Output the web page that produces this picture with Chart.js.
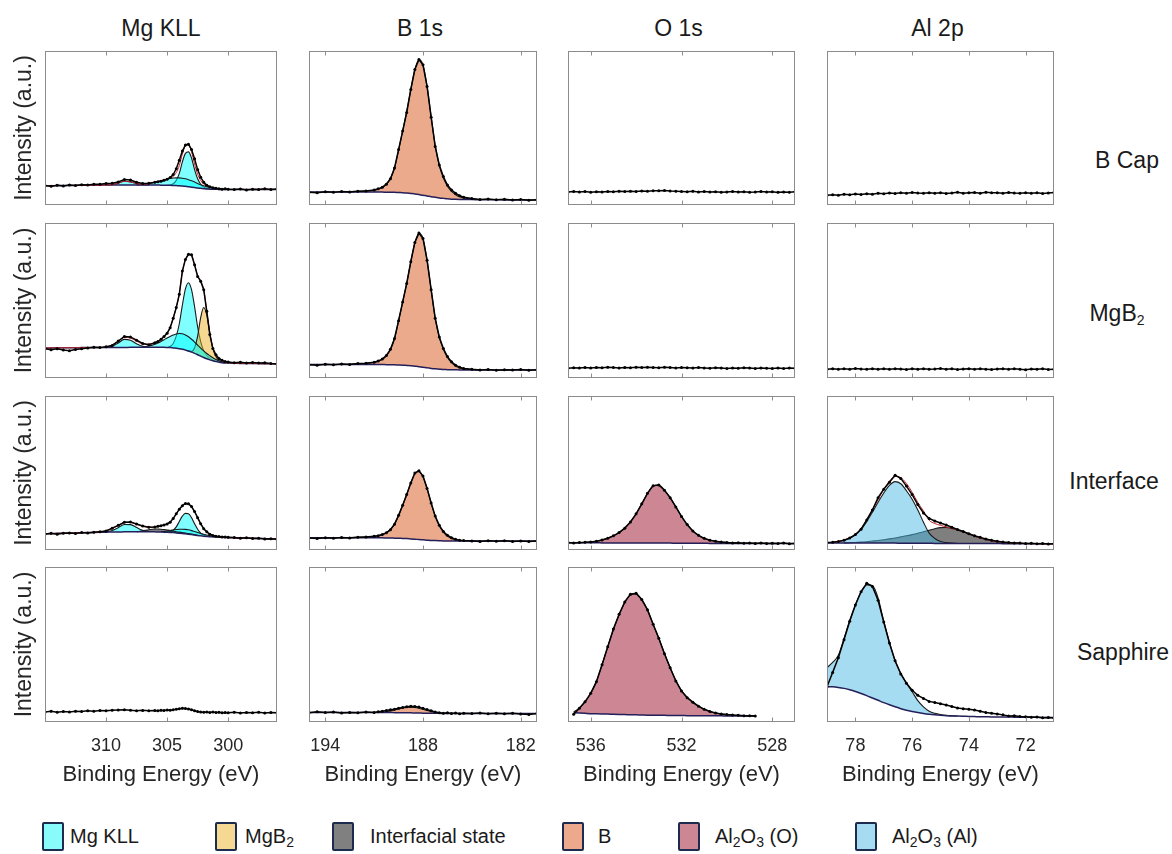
<!DOCTYPE html>
<html><head><meta charset="utf-8">
<script src="https://cdn.jsdelivr.net/npm/chart.js@4.4.1/dist/chart.umd.min.js"></script>
<style>
body{margin:0;background:#fff;width:1172px;height:854px;position:relative;overflow:hidden;font-family:"Liberation Sans",Arial,Helvetica,sans-serif;color:#1a1a1a}
canvas{position:absolute}
.lbl{position:absolute;white-space:nowrap;transform:translate(-50%,-50%);font-size:23px}
.leg{position:absolute;top:836px;transform:translateY(-50%);font-size:20px;white-space:nowrap}
.sw{position:absolute;top:822px;width:18px;height:25px;border:2px solid #1d2b4f;border-radius:2px}
sub{font-size:14px;vertical-align:-4px;line-height:0}
</style></head><body>
<div id="root"></div>
<script>
// ---------------- DATA ----------------
const COLUMN_TITLES = ['Mg KLL', 'B 1s', 'O 1s', 'Al 2p'];
const ROW_LABELS = ['B Cap', 'MgB<sub>2</sub>', 'Interface', 'Sapphire'];
const X_LIMITS = [[315, 296], [195, 181], [537, 527], [79, 71]];
const X_TICKS = [[310, 305, 300], [194, 188, 182], [536, 532, 528], [78, 76, 74, 72]];
const LEGEND_LABELS = ['Mg KLL', 'MgB<sub>2</sub>', 'Interfacial state', 'B', 'Al<sub>2</sub>O<sub>3</sub> (O)', 'Al<sub>2</sub>O<sub>3</sub> (Al)'];

// binding energy grids (eV)
const E_MG = [315,314.5,314,313.5,313,312.5,312,311.5,311,310.5,310,309.5,309,308.5,308,307.5,307,306.5,306,
  305.75,305.5,305.25,305,304.75,304.5,304.25,304,303.75,303.5,303.25,303,302.75,302.5,302.25,302,301.75,301.5,301.25,301,300.75,300.5,300.25,300,
  299.5,299,298.5,298,297.5,297,296.5,296];
const E_B = [195,194.5,194,193.5,193,192.5,192,191.5,191,
  190.75,190.5,190.25,190,189.75,189.5,189.25,189,188.75,188.5,188.25,188,187.75,187.5,187.25,187,186.75,186.5,186.25,186,185.75,185.5,
  185,184.5,184,183.5,183,182.5,182,181.5,181];
const E_O = [537,536.75,536.5,536.25,536,535.75,535.5,535.25,535,534.75,534.5,534.25,534,533.75,533.5,533.25,533,532.75,532.5,532.25,
  532,531.75,531.5,531.25,531,530.75,530.5,530.25,530,529.75,529.5,529.25,529,528.75,528.5,528.25,528,527.75,527.5,527.25,527];
const E_A = [79,78.8,78.6,78.4,78.2,78,77.8,77.6,77.4,77.2,77,76.8,76.6,76.4,76.2,76,75.8,75.6,75.4,75.2,
  75,74.8,74.6,74.4,74.2,74,73.8,73.6,73.4,73.2,73,72.8,72.6,72.4,72.2,72,71.8,71.6,71.4,71.2,71];

// ---- Mg KLL ----
const MG_BCAP = [12.6,12.2,12.8,12.4,13.0,12.7,13.2,13.0,13.5,13.4,13.9,14.1,15.0,16.6,16.2,14.8,14.0,14.2,14.8,
  15.1,15.4,16.0,16.8,17.8,19.8,23.5,29,35,39,39.5,36,30,23,18,14.8,12.8,11.8,11.2,10.8,10.6,10.3,10.5,10.2,
  10.0,10.4,9.8,10.2,10.0,10.5,10.1,10.4];
const MG_BCAP_BG = [12.5,12.5,12.6,12.6,12.7,12.7,12.8,12.8,12.9,12.9,13.0,13.0,13.0,13.0,13.0,13.0,13.0,13.0,13.0,
  13.0,12.9,12.9,12.8,12.8,12.7,12.6,12.5,12.3,12.1,11.9,11.6,11.3,11.0,10.8,10.6,10.4,10.3,10.2,10.2,10.1,10.1,10.1,10.1,
  10.1,10.1,10.1,10.1,10.1,10.1,10.1,10.1];
const MG_BCAP_FIT = [12.5,12.5,12.6,12.6,12.7,12.7,12.8,12.8,12.9,12.9,13.0,13.3,14.2,15.4,15.0,13.9,13.5,13.9,14.8,
  15.3,15.8,16.3,16.8,17.4,18.6,21.0,25.6,33.1,38.4,39.0,34.6,26.6,20.0,15.9,13.5,12.3,11.5,11.0,10.7,10.4,10.2,10.1,10.1,
  10.1,10.1,10.1,10.1,10.1,10.1,10.1,10.1];
const MG_BCAP_C1 = [13.0,13.3,14.2,15.4,15.0,13.9,13.2,13.0];
const MG_BCAP_C2 = [13.0,13.3,13.9,14.8,15.3,15.8,16.3,16.8,17.2,17.5,17.6,17.6,17.4,17.0,16.4,15.7,14.9,14.0,13.2,12.5,11.9,11.4,11.0,10.7,10.4,10.2];
const MG_BCAP_C3 = [12.8,13.0,13.8,16,20.5,28,33.5,34.5,30.5,23,17,13.5,11.6,10.8,10.4,10.2];

const MG_MGB2 = [18.8,18.2,18.9,18.0,17.6,18.4,18.9,19.4,19.8,19.6,20.2,21.0,23.8,26.8,26.5,24.4,22.3,21.5,22.8,
  23.5,25.0,26.8,28.8,32.5,38.5,45.5,54,69,76.5,79.8,79.5,73,65.5,62.5,57,43,28,19,15,12.6,11.4,10.6,10.3,
  9.9,10.1,9.7,10.0,9.6,9.9,9.3,9.0];
const MG_MGB2_BG = [19.4,19.4,19.5,19.5,19.5,19.5,19.6,19.6,19.6,19.6,19.7,19.7,19.7,19.7,19.8,19.8,19.8,19.8,19.8,
  19.8,19.8,19.8,19.7,19.6,19.4,19.2,18.9,18.5,18.0,17.4,16.7,15.9,15.0,14.1,13.2,12.4,11.7,11.1,10.6,10.2,9.9,9.7,9.6,
  9.5,9.4,9.4,9.3,9.3,9.2,9.2,9.2];
const MG_MGB2_FIT = [19.4,19.4,19.5,19.5,19.5,19.5,19.6,19.6,19.6,19.7,20.0,21.2,23.6,26.2,25.8,23.8,22.0,21.8,22.6,
  23.4,24.8,26.6,28.8,32.5,38.5,45.5,54.5,68.5,76.5,79.5,79.2,73,66,62.5,57,43,28.5,19.2,15,12.6,11.3,10.5,10.0,
  9.6,9.5,9.4,9.3,9.3,9.2,9.2,9.2];
const MG_MGB2_C1 = [19.8,20.4,22.6,24.9,24.3,22.1,20.4,19.8];
const MG_MGB2_C2 = [20.0,20.6,21.8,22.6,23.6,24.7,25.8,26.8,27.7,28.4,28.7,28.5,27.8,26.6,25.0,23.2,21.2,19.3,17.5,15.8,14.4,13.1,12.0,11.1,10.4];
const MG_MGB2_C3 = [19.7,20.3,22.3,27,35,47,57.5,61.5,57,46,33,23.5,17.5,14.5,12.8,11.6,10.8];
const MG_MGB2_MGB2 = [18.0,17.5,17.2,19.5,27,39,45.5,40.5,29,19,13.8,11.2,10.2,9.8];

const MG_INT = [10.4,10.9,10.3,10.8,11.0,10.7,11.3,11.0,11.6,11.9,12.4,14.2,16.0,18.0,18.2,16.9,15.6,14.8,15.0,
  15.4,15.8,16.3,16.9,18.0,20.5,23.5,26.5,28.8,30.2,30.0,28.2,25.0,21.0,17.0,13.8,11.8,10.2,9.4,9.0,8.7,8.5,8.4,8.2,
  8.1,7.6,7.9,7.4,7.6,7.2,7.3,6.9];
const MG_INT_BG = [10.5,10.6,10.8,10.9,11.0,11.1,11.2,11.3,11.4,11.5,11.6,11.7,11.7,11.8,11.8,11.8,11.8,11.8,11.8,
  11.7,11.7,11.6,11.5,11.4,11.3,11.1,10.9,10.7,10.5,10.3,10.0,9.7,9.4,9.2,9.0,8.8,8.6,8.5,8.4,8.3,8.2,8.1,8.0,
  7.9,7.8,7.7,7.6,7.5,7.4,7.3,7.3];
const MG_INT_FIT = [10.5,10.6,10.8,10.9,11.0,11.1,11.2,11.3,11.5,11.8,12.4,13.9,15.9,17.9,18.0,16.7,15.4,14.8,14.9,
  15.3,15.7,16.2,16.9,18.1,20.4,23.4,26.4,28.8,30.0,29.8,28.0,25.0,21.0,17.2,14.0,11.8,10.3,9.4,8.9,8.6,8.4,8.2,8.0,
  7.9,7.8,7.7,7.6,7.5,7.4,7.3,7.3];
const MG_INT_C1 = [11.7,12.6,14.5,16.6,16.5,14.6,12.8,12.0];
const MG_INT_STATE = [11.9,12.4,13.2,13.6,13.6,13.5,13.3,13.0,12.7,12.3,11.9,11.6,11.3,11.0,10.7,10.3,10.0,9.6];
const MG_INT_C2 = [11.8,12.0,12.3,12.7,13.0,13.3,13.5,13.5,13.4,13.1,12.6,12.0,11.4,10.8,10.2,9.7,9.2,8.9,8.6];
const MG_INT_C3 = [11.5,11.8,12.8,15,18.5,22,23.8,23.5,21,17,13.5,11,9.8,9.1,8.7];

const MG_SAPH = [6.4,6.9,6.3,6.8,6.5,7.0,6.7,7.2,7.0,7.4,7.2,7.6,7.8,7.9,7.6,7.3,7.5,7.2,7.4,
  7.3,7.6,7.4,7.7,7.6,7.9,8.3,8.6,8.8,8.7,8.4,7.9,7.3,6.8,6.5,6.3,6.5,6.2,6.4,6.1,6.3,6.0,6.2,5.9,
  6.3,5.8,6.2,5.9,6.3,5.8,6.1,6.0];

// ---- B 1s ----
const B_BCAP = [8.3,8.0,8.6,8.2,8.7,8.4,9.0,9.1,9.8,
  10.5,11.5,13.5,17,24,36,48,60,75,88,94.5,91,77,57,38,26,18.5,13,9.8,7.6,6.0,5.0,
  4.2,3.6,3.9,3.4,3.7,3.2,3.6,3.1,3.4];
const B_BCAP_BG = [8.4,8.4,8.4,8.4,8.4,8.4,8.4,8.4,8.4,
  8.4,8.4,8.3,8.3,8.2,8.1,8.0,7.8,7.5,7.2,6.8,6.3,5.9,5.4,5.0,4.6,4.3,4.0,3.8,3.7,3.6,3.5,
  3.5,3.4,3.4,3.4,3.3,3.3,3.3,3.3,3.3];
const B_BCAP_B = [8.6,8.7,8.9,9.2,9.6,
  10.3,11.4,13.5,17.2,24,35.5,48,61,75,88,94.3,91,77,57.5,38.5,25.5,17.5,12.2,8.8,6.7,5.3,4.5,
  3.8,3.5];

const B_MGB2 = [8.6,8.2,8.9,8.5,9.0,8.7,9.3,9.5,10.2,
  11.0,12.2,14.5,18.5,25.5,37,49,61,75,87.5,93.5,90,76,57,38.5,26.5,19,13.8,10.5,8.3,7.0,6.2,
  5.6,5.2,5.5,5.0,5.4,5.1,5.5,5.0,5.3];
const B_MGB2_BG = [8.7,8.7,8.7,8.7,8.7,8.7,8.7,8.7,8.7,
  8.7,8.7,8.6,8.6,8.5,8.4,8.3,8.1,7.9,7.6,7.3,6.9,6.6,6.2,5.9,5.7,5.5,5.4,5.3,5.3,5.2,5.2,
  5.2,5.2,5.2,5.2,5.2,5.2,5.2,5.2,5.2];
const B_MGB2_B = [8.8,8.9,9.2,9.5,10.0,
  10.8,12.0,14.3,18.3,25.3,36.8,49,61,75,87.3,93.3,90,76,57,38.5,26.2,18.6,13.3,9.9,7.8,6.6,5.9,
  5.4,5.2];

const B_INT = [7.8,7.4,8.0,7.6,8.1,7.8,8.3,8.4,8.9,
  9.3,10.0,11.2,13.2,16.8,22.5,29,36,43.5,50,51.5,48,40,30.5,22,16,12,9.6,8.0,7.0,6.4,6.1,
  5.9,5.6,6.0,5.7,6.0,5.6,5.9,5.5,5.8];
const B_INT_BG = [7.9,7.9,7.9,7.9,7.9,7.9,7.9,7.9,7.9,
  7.9,7.9,7.8,7.8,7.7,7.6,7.5,7.4,7.2,7.0,6.8,6.6,6.4,6.2,6.1,6.0,5.9,5.9,5.8,5.8,5.8,5.8,
  5.8,5.8,5.8,5.8,5.8,5.8,5.8,5.8,5.8];
const B_INT_B = [8.0,8.1,8.3,8.5,8.9,
  9.3,10.0,11.2,13.3,16.8,22.3,29,36,43.5,49.5,51,47.5,40,30.5,22,15.8,11.6,9.0,7.5,6.6,6.2,6.0,
  5.85,5.8];

const B_SAPH = [6.0,6.6,6.1,6.4,5.8,6.2,6.0,6.4,6.2,
  6.6,6.9,7.4,7.9,8.3,8.8,9.3,9.8,10.2,10.0,9.6,8.8,8.0,7.2,6.5,6.0,5.7,5.9,5.5,5.8,5.4,5.7,
  5.5,5.8,5.3,5.7,5.4,5.6,5.2,4.8,5.5];
const B_SAPH_BG = [6.1,6.1,6.1,6.1,6.1,6.1,6.1,6.1,6.1,
  6.1,6.1,6.1,6.1,6.0,6.0,6.0,5.9,5.9,5.8,5.8,5.7,5.7,5.6,5.6,5.6,5.5,5.5,5.5,5.5,5.5,5.5,
  5.5,5.5,5.5,5.5,5.5,5.5,5.5,5.5,5.5];
const B_SAPH_B = [6.2,6.6,7.2,7.8,8.4,9.0,9.4,9.6,9.4,8.9,8.2,7.4,6.7,6.1,5.8,5.6];

// ---- O 1s ----
const O_BCAP = [8.4,8.8,8.5,8.7,8.3,8.6,8.4,8.8,8.6,8.9,8.7,9.0,8.8,9.1,9.0,9.3,9.2,9.4,9.1,9.0,
  8.8,8.6,8.9,8.5,8.7,8.4,8.6,8.3,8.5,8.7,8.4,8.6,8.3,8.5,8.8,8.4,8.6,8.2,8.5,8.3,8.6];
const O_MGB2 = [6.3,6.6,6.4,6.7,6.5,6.8,6.6,6.9,6.7,6.5,6.8,6.6,6.9,6.7,7.0,6.8,6.6,6.9,6.7,6.5,
  6.8,6.6,6.4,6.7,6.5,6.3,6.6,6.4,6.2,6.5,6.3,6.6,6.4,6.2,6.5,6.3,6.1,6.4,6.2,6.5,6.3];
const O_INT = [4.8,4.6,4.9,5.0,5.2,5.7,6.5,7.6,9.2,11.3,14.2,18.2,23.5,30,36.8,41.8,42.2,38.8,34,28,
  21.8,16.5,12.3,9.5,7.6,6.4,5.7,5.2,4.9,4.6,4.7,4.4,4.6,4.3,4.5,4.2,4.4,4.2,4.5,4.1,4.3];
const O_INT_BG = [4.7,4.7,4.7,4.7,4.7,4.7,4.6,4.6,4.6,4.6,4.6,4.6,4.5,4.5,4.5,4.5,4.5,4.5,4.5,4.4,
  4.4,4.4,4.4,4.4,4.4,4.3,4.3,4.3,4.3,4.3,4.3,4.3,4.2,4.2,4.2,4.2,4.2,4.2,4.2,4.2,4.2];
const O_INT_ALO = [4.7,4.75,4.8,4.95,5.25,5.7,6.5,7.6,9.2,11.3,14.2,18.2,23.5,30,36.7,41.6,42.1,38.8,34,28,
  21.8,16.4,12.3,9.4,7.5,6.3,5.6,5.1,4.8,4.6,4.45,4.4,4.35,4.3,4.3,4.25,4.2,4.2,4.2,4.2,4.2];
const O_SAPH = [5.0,8.8,13,18.5,26,37,48.5,60,69.5,77.5,82.5,83,79,72.5,63,54,44,35,26.5,20,
  15.7,12.8,10.2,8.2,6.8,5.8,5.2,4.8,4.5,4.3,4.1,4.0,3.9];
const O_SAPH_BG = [6.0,5.8,5.6,5.4,5.3,5.2,5.1,5.0,4.9,4.8,4.7,4.6,4.5,4.4,4.4,4.3,4.3,4.2,4.2,4.2,
  4.1,4.1,4.1,4.0,4.0,4.0,4.0,3.9,3.9,3.9,3.9,3.9,3.9];
const O_SAPH_ALO = [6.4,9.0,13.2,18.5,26,37,48.5,59.5,69,77,82,82.6,79,72.3,63,54,44.2,35,26.8,20.3,
  15.9,12.6,10.1,8.2,6.8,5.8,5.1,4.7,4.4,4.2,4.0,3.95,3.9];

// ---- Al 2p ----
const AL_BCAP = [6.4,6.7,6.3,6.9,6.6,7.1,6.8,7.3,7.0,7.6,7.3,7.8,7.5,8.0,7.7,8.1,7.8,7.6,8.0,7.7,
  7.9,7.5,7.8,8.2,7.6,7.9,8.1,7.7,8.3,7.9,8.0,7.7,8.1,7.8,7.6,8.0,7.7,7.9,7.5,7.8,8.1];
const AL_MGB2 = [5.7,6.0,5.6,5.9,5.7,6.1,5.8,5.6,6.0,5.7,5.9,5.6,6.0,5.8,5.5,5.9,5.7,6.0,5.6,5.8,
  6.1,5.7,5.9,5.5,5.8,6.0,5.6,5.9,5.7,5.5,5.8,6.0,5.6,5.9,5.7,5.4,5.8,5.6,5.9,5.5,5.7];
const AL_INT = [4.8,5.0,5.6,6.4,7.8,10.0,13.5,19.5,26,34,39.5,44,48.5,46.5,41.5,36,29.5,24,20.5,18.8,
  17.5,16.2,14.8,13.3,12.0,10.6,9.3,8.2,7.1,6.3,5.7,5.2,4.9,4.6,4.5,4.3,4.4,4.1,4.2,3.9,4.0];
const AL_INT_BG = [4.6,4.6,4.6,4.6,4.6,4.6,4.5,4.5,4.5,4.5,4.5,4.5,4.5,4.4,4.4,4.4,4.4,4.4,4.4,4.3,
  4.3,4.3,4.3,4.3,4.3,4.2,4.2,4.2,4.2,4.2,4.2,4.1,4.1,4.1,4.1,4.1,4.0,4.0,4.0,4.0,4.0];
const AL_INT_FIT = [4.8,5.0,5.5,6.3,7.8,10.1,13.9,19.4,25.8,32.8,39.2,44.7,47.8,47.0,43.2,37.5,30.9,25.3,19.3,17.2,
  16.0,15.0,14.0,13.0,11.8,10.4,9.0,7.8,6.8,6.0,5.4,5.0,4.7,4.5,4.3,4.2,4.1,4.1,4.0,4.0,4.0];
const AL_INT_ALAL = [4.7,4.9,5.4,6.2,7.6,9.8,13.3,18.5,24.5,31,37,42,44.4,43,38.5,33,26,18,11,7.5,5.5,4.8,4.5,4.4];
const AL_INT_STATE = [4.6,4.7,4.9,5.1,5.4,5.8,6.2,6.7,7.2,7.8,8.5,9.2,10.0,10.9,11.8,12.8,13.8,14.5,14.6,14.0,
  13.0,11.8,10.4,9.0,7.8,6.8,6.0,5.4,5.0,4.7,4.5,4.3];
const AL_SAPH = [22.8,32,41.5,53,65,75.5,84,89.5,87.5,78.5,64.5,51,39.5,31,25,20.5,17.2,15.2,13.3,12.6,
  11.8,11.0,10.0,9.0,8.6,8.2,7.7,7.0,6.1,5.6,5.1,4.6,3.9,4.1,3.6,3.4,3.0,3.2,2.8,2.9,2.6];
const AL_SAPH_BG = [22.8,22.7,22.3,21.7,20.8,19.7,18.4,17.0,15.5,14.0,12.5,11.1,9.8,8.6,7.6,6.8,6.1,5.5,5.0,4.6,
  4.3,4.1,3.9,3.8,3.7,3.6,3.5,3.4,3.4,3.3,3.3,3.2,3.2,3.1,3.1,3.0,3.0,3.0,2.9,2.9,2.9];
const AL_SAPH_ALAL = [35,38.5,43,54,65.5,75.5,84,88.5,88,80,65,51.5,39.5,31.5,25,19.5,13.8,9.8,7.0,5.6,4.8,4.3,4.0,3.85];

// ---------------- PANEL SPECS ----------------
const PANELS = [
  [
    {E:E_MG, data:MG_BCAP, fit:MG_BCAP_FIT, bg:MG_BCAP_BG, comps:[['mg',[307.5,300.5],MG_BCAP_C2],['mg',[310,306.5],MG_BCAP_C1],['mg',[305,301.25],MG_BCAP_C3]]},
    {E:E_B, data:B_BCAP, bg:B_BCAP_BG, comps:[['b',[193,184.5],B_BCAP_B]]},
    {E:E_O, data:O_BCAP},
    {E:E_A, data:AL_BCAP}
  ],
  [
    {E:E_MG, data:MG_MGB2, fit:MG_MGB2_FIT, bg:MG_MGB2_BG, comps:[['mg',[307,300.5],MG_MGB2_C2],['mg',[310,306.5],MG_MGB2_C1],['mgb2',[303.5,300.25],MG_MGB2_MGB2],['mg',[305,301],MG_MGB2_C3]]},
    {E:E_B, data:B_MGB2, bg:B_MGB2_BG, comps:[['b',[193,184.5],B_MGB2_B]]},
    {E:E_O, data:O_MGB2},
    {E:E_A, data:AL_MGB2}
  ],
  [
    {E:E_MG, data:MG_INT, fit:MG_INT_FIT, bg:MG_INT_BG, comps:[['int',[307.5,302.5],MG_INT_STATE],['mg',[305.5,301],MG_INT_C2],['mg',[310,306.5],MG_INT_C1],['mg',[305,301.5],MG_INT_C3]]},
    {E:E_B, data:B_INT, bg:B_INT_BG, comps:[['b',[193,184.5],B_INT_B]]},
    {E:E_O, data:O_INT, bg:O_INT_BG, comps:[['alo',null,O_INT_ALO]]},
    {E:E_A, data:AL_INT, fit:AL_INT_FIT, bg:AL_INT_BG, comps:[['alal',[79,74.4],AL_INT_ALAL],['int',[78.4,72.2],AL_INT_STATE]]}
  ],
  [
    {E:E_MG, data:MG_SAPH},
    {E:E_B, data:B_SAPH, bg:B_SAPH_BG, comps:[['b',[190.5,186.75],B_SAPH_B]]},
    {E:E_O, range:[536.75,528.75], data:O_SAPH, bg:O_SAPH_BG, comps:[['alo',[536.75,528.75],O_SAPH_ALO]]},
    {E:E_A, data:AL_SAPH, bg:AL_SAPH_BG, comps:[['alal',[79,74.4],AL_SAPH_ALAL]]}
  ]
];

// ---------------- STYLE / LAYOUT ----------------
const FONT = '"Liberation Sans", Arial, Helvetica, sans-serif';
const FILL = {mg:'rgba(0,255,255,0.5)', mgb2:'rgba(235,177,35,0.5)', int:'rgba(0,0,0,0.5)', b:'rgba(217,85,25,0.5)', alo:'rgba(153,13,41,0.5)', alal:'rgba(77,185,229,0.5)'};
const LEGEND_SWATCH = ['#8afbfb','#f5d891','#808080','#eca98b','#cc8694','#a6dcf2'];
const COL_L = [45, 303, 562, 821], COL_R = [277, 537, 795, 1054];
const ROW_T = [51, 223, 396, 567], ROW_B = [205, 378, 550, 722];
const ROW_LABEL_X = [1127, 1117, 1114, 1123], ROW_LABEL_Y = [160, 313, 481, 652];

function pts(E, range, Y) {
  const xs = range ? E.filter(e => e <= range[0] && e >= range[1]) : E;
  if (xs.length !== Y.length) console.error('length mismatch', range, xs.length, Y.length);
  return Y.map((y, i) => ({x: xs[i], y}));
}

const framePlugin = {
  id: 'frame',
  afterDatasetsDraw(chart) {
    const {ctx, chartArea: a} = chart;
    const xs = chart.scales.x;
    ctx.save();
    ctx.strokeStyle = '#8c8c8c';
    ctx.lineWidth = 1;
    const l = Math.round(a.left) + 0.5, t = Math.round(a.top) + 0.5;
    const r = Math.round(a.right) - 0.5, b = Math.round(a.bottom) - 0.5;
    ctx.strokeRect(l, t, r - l, b - t);
    ctx.beginPath();
    for (const tk of xs.ticks) {
      const px = Math.round(xs.getPixelForValue(tk.value)) + 0.5;
      ctx.moveTo(px, b); ctx.lineTo(px, b - 4);
      ctx.moveTo(px, t); ctx.lineTo(px, t + 4);
    }
    ctx.stroke();
    ctx.restore();
  }
};

const root = document.getElementById('root');

function addText(html, x, y, cls) {
  const d = document.createElement('div');
  d.className = cls; d.innerHTML = html;
  d.style.left = x + 'px'; d.style.top = y + 'px';
  root.appendChild(d);
}

COLUMN_TITLES.forEach((t, c) => addText(t, (COL_L[c] + COL_R[c]) / 2, 28, 'lbl'));
ROW_LABELS.forEach((t, r) => addText(t, ROW_LABEL_X[r], ROW_LABEL_Y[r], 'lbl'));

const SW_X = [42, 215, 332, 562, 678, 855];
const TX_X = [70, 245, 370, 598, 715, 892];
LEGEND_LABELS.forEach((t, i) => {
  const s = document.createElement('div');
  s.className = 'sw'; s.style.left = SW_X[i] + 'px'; s.style.background = LEGEND_SWATCH[i];
  root.appendChild(s);
  const d = document.createElement('div');
  d.className = 'leg'; d.innerHTML = t; d.style.left = TX_X[i] + 'px';
  root.appendChild(d);
});

for (let r = 0; r < 4; r++) {
  for (let c = 0; c < 4; c++) {
    const P = PANELS[r][c];
    const padL = c === 0 ? 45 : 6, padR = 6, padT = 6, padB = r === 3 ? 75 : 6;
    const W = COL_R[c] - COL_L[c] + padL + padR;
    const H = ROW_B[r] - ROW_T[r] + padT + padB;
    const cv = document.createElement('canvas');
    cv.width = W; cv.height = H;
    cv.style.left = (COL_L[c] - padL) + 'px';
    cv.style.top = (ROW_T[r] - padT) + 'px';
    cv.style.width = W + 'px'; cv.style.height = H + 'px';
    root.appendChild(cv);

    const datasets = [];
    datasets.push({label:'data', data: pts(P.E, P.range, P.data), borderColor:'#000', borderWidth:1.5,
      pointRadius:1.5, pointBackgroundColor:'#000', pointBorderWidth:0, tension:0, fill:false, order:0});
    datasets.push({label:'fit', data: P.fit ? pts(P.E, P.range, P.fit) : [], borderColor:'#c4252e', borderWidth:1,
      pointRadius:0, cubicInterpolationMode:'monotone', fill:false, order:1});
    datasets.push({label:'bg', data: P.bg ? pts(P.E, P.range, P.bg) : [], borderColor:'#241f58', borderWidth:1.5,
      pointRadius:0, cubicInterpolationMode:'monotone', fill:false, order:2});
    (P.comps || []).forEach((cp, k) => {
      datasets.push({label:cp[0], data: pts(P.E, cp[1], cp[2]), borderColor:'#1a1a1a', borderWidth:1.1,
        backgroundColor: FILL[cp[0]], pointRadius:0, cubicInterpolationMode:'monotone',
        fill: {target: 2, above: FILL[cp[0]], below: FILL[cp[0]]}, order: 3 + k});
    });

    new Chart(cv, {
      type: 'line',
      data: {datasets},
      plugins: [framePlugin],
      options: {
        responsive: false, animation: false, devicePixelRatio: 1,
        layout: {padding: {left: c === 0 ? 0 : padL, right: padR, top: padT, bottom: 0}},
        plugins: {legend: {display: false}, tooltip: {enabled: false}},
        events: [],
        scales: {
          x: {
            type: 'linear', reverse: true, min: X_LIMITS[c][1], max: X_LIMITS[c][0],
            grid: {display: false, drawTicks: false}, border: {display: false},
            ticks: {display: r === 3, autoSkip: false, maxRotation: 0, padding: 13, color: '#262626', font: {family: FONT, size: 18}},
            title: {display: r === 3, text: 'Binding Energy (eV)', color: '#262626', font: {family: FONT, size: 22}, padding: {top: 0, bottom: 9}},
            afterBuildTicks: s => { s.ticks = X_TICKS[c].map(v => ({value: v})); },
            afterFit: s => { s.height = padB; s.paddingLeft = 0; s.paddingRight = 0; }
          },
          y: {
            display: c === 0, min: 0, max: 100,
            grid: {display: false}, border: {display: false},
            ticks: {display: false},
            title: {display: c === 0, text: 'Intensity (a.u.)', color: '#262626', font: {family: FONT, size: 23}, padding: {top: 11, bottom: 0}},
            afterFit: s => { s.width = padL; s.paddingTop = 0; s.paddingBottom = 0; }
          }
        }
      }
    });
  }
}
</script>
</body></html>
